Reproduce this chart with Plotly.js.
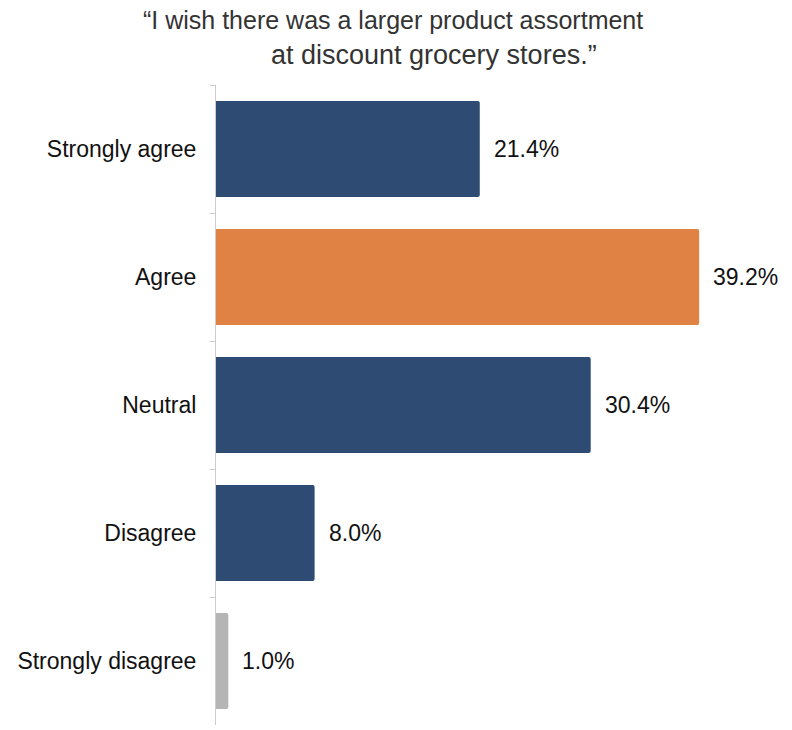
<!DOCTYPE html>
<html>
<head>
<meta charset="utf-8">
<script src="https://cdn.plot.ly/plotly-3.0.1.min.js"></script>
<style>html,body{margin:0;padding:0;background:#fff;}#chart{width:792px;height:730px;}</style>
</head>
<body>
<div id="chart"></div>
<script>
const categories = ["Strongly agree", "Agree", "Neutral", "Disagree", "Strongly disagree"];
const values = [21.4, 39.2, 30.4, 8.0, 1.0];
const barColors = ["#2E4B73", "#E08244", "#2E4B73", "#2E4B73", "#B5B5B5"];
const titleLines = ["\u201CI wish there was a larger product assortment", "at discount grocery stores.\u201D"];

const font = "Liberation Sans, Arial, Helvetica, sans-serif";

const trace = {
  type: "bar",
  orientation: "h",
  y: categories,
  x: values,
  marker: {color: barColors, line: {width: 0}, cornerradius: 2},
  hoverinfo: "none"
};

const valueLabels = categories.map((c, i) => ({
  x: values[i], y: c, xref: "x", yref: "y",
  text: values[i].toFixed(1) + "%",
  showarrow: false, xanchor: "left", xshift: 12,
  font: {family: font, size: 23, color: "#111"}
}));

const titleAnn = [
  {text: titleLines[0], xref: "paper", yref: "paper", x: 0.313, y: 1.1016, xanchor: "center", yanchor: "middle", showarrow: false, font: {family: font, size: 25, color: "#333"}},
  {text: titleLines[1], xref: "paper", yref: "paper", x: 0.385, y: 1.047, xanchor: "center", yanchor: "middle", showarrow: false, font: {family: font, size: 27, color: "#333"}}
];

const layout = {
  width: 792, height: 730,
  margin: {l: 216, r: 9, t: 85, b: 5},
  paper_bgcolor: "#fff", plot_bgcolor: "#fff",
  showlegend: false,
  bargap: 0.25,
  xaxis: {range: [0, 46], visible: false, fixedrange: true},
  yaxis: {
    type: "category",
    categoryorder: "array", categoryarray: categories,
    range: [4.5, -0.5],
    showline: true, linecolor: "#CCCCCC", linewidth: 1,
    ticks: "outside", tickson: "boundaries", ticklen: 5, tickcolor: "#CCCCCC",
    showgrid: false, zeroline: false,
    ticklabelstandoff: 14,
    tickfont: {family: font, size: 23, color: "#111"}
  },
  annotations: valueLabels.concat(titleAnn)
};

Plotly.newPlot("chart", [trace], layout, {displayModeBar: false, staticPlot: true});
</script>
</body>
</html>
